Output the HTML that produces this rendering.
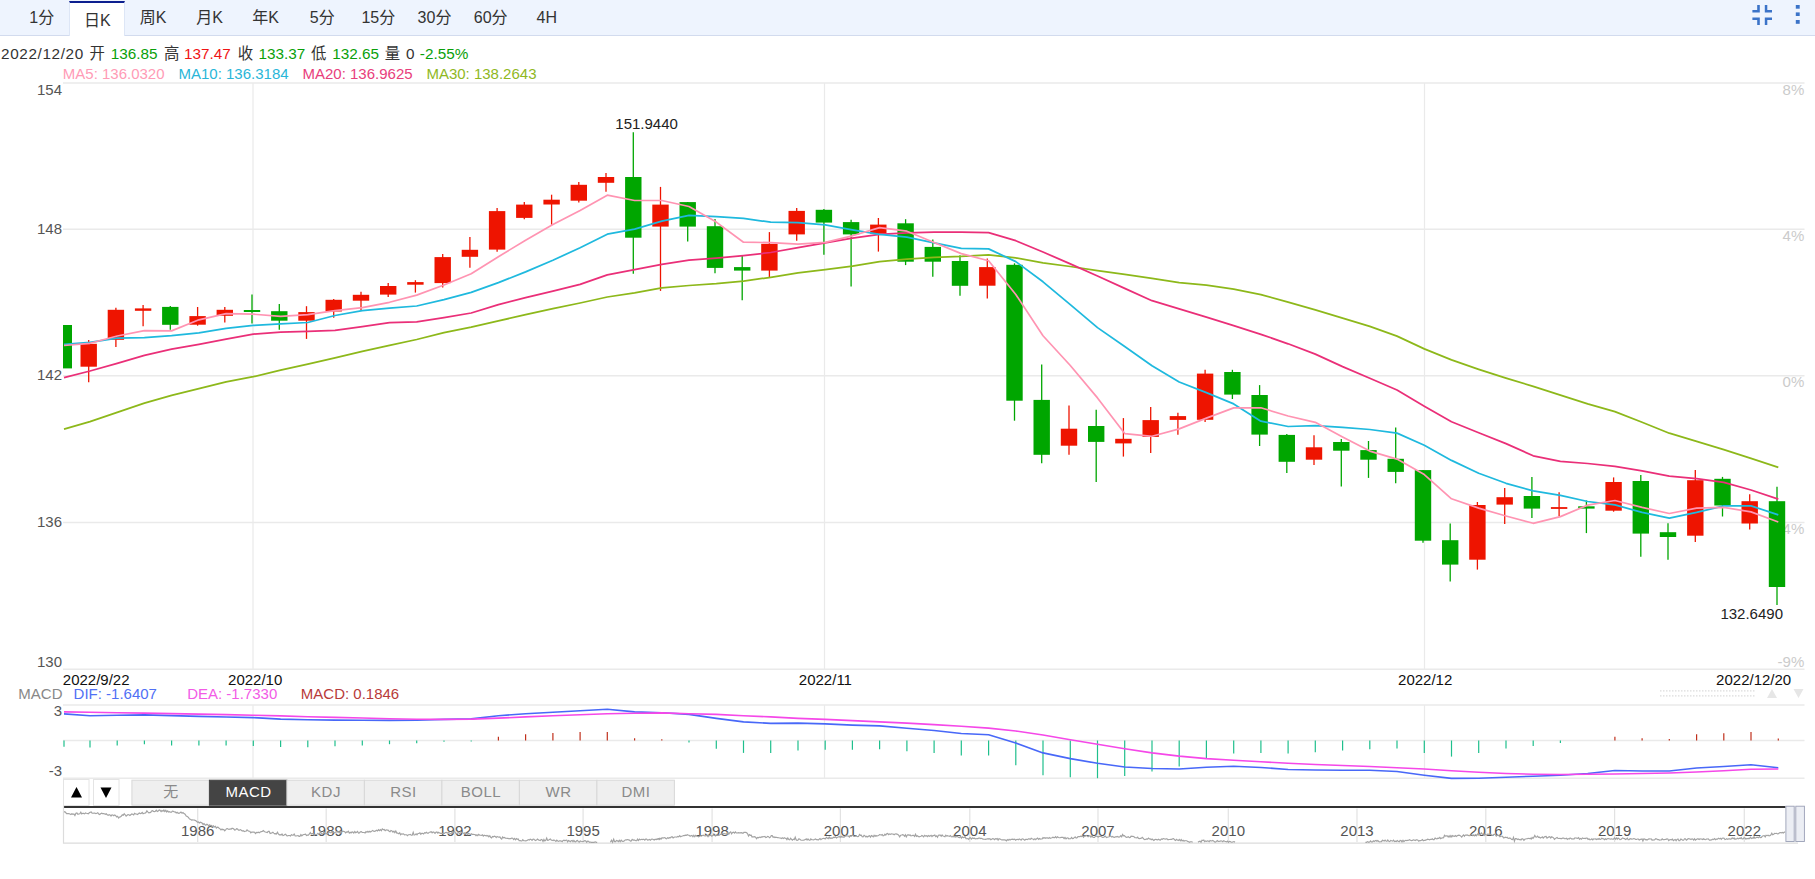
<!DOCTYPE html>
<html lang="zh-CN"><head><meta charset="utf-8"><title>K线图</title>
<style>
html,body{margin:0;padding:0;background:#fff;}
body{width:1815px;height:879px;overflow:hidden;position:relative;font-family:"Liberation Sans","Noto Sans CJK SC",sans-serif;}
svg{position:absolute;left:0;top:0;display:block;}
svg text{font-family:"Liberation Sans","Noto Sans CJK SC",sans-serif;font-size:15px;}
.hd{position:absolute;left:0;top:0;width:1815px;height:35px;background:#eef4fe;border-bottom:1px solid #d2dbee;box-sizing:content-box;}
.tab{position:absolute;top:0;height:35px;width:56px;text-align:center;font-size:16px;line-height:35px;color:#333;white-space:nowrap;}
.tab.on{background:#fff;top:1px;height:35px;width:56px;line-height:35px;border-top:2px solid #0c1f8f;box-sizing:border-box;border-left:1px solid #dde6f6;border-right:1px solid #dde6f6;}
.info span{position:absolute;top:43.6px;font-size:15.3px;line-height:20px;white-space:nowrap;color:#333;}
.info span.cj{font-size:15.4px;top:44px;}
.g{color:#0a9f0a !important}.r{color:#f01414 !important}
</style></head><body>
<div class="hd">
<div class="tab" style="left:13.7px">1分</div>
<div class="tab on" style="left:69.3px">日K</div>
<div class="tab" style="left:125.1px">周K</div>
<div class="tab" style="left:181.7px">月K</div>
<div class="tab" style="left:237.7px">年K</div>
<div class="tab" style="left:294.3px">5分</div>
<div class="tab" style="left:350.3px">15分</div>
<div class="tab" style="left:406.5px">30分</div>
<div class="tab" style="left:462.7px">60分</div>
<div class="tab" style="left:518.8px">4H</div>
</div>
<div class="info">
<span class="" style="left:1.0px;letter-spacing:0.62px;">2022/12/20</span>
<span class="cj" style="left:89.6px;">开</span>
<span class="g" style="left:110.7px;">136.85</span>
<span class="cj" style="left:164.0px;">高</span>
<span class="r" style="left:184.1px;">137.47</span>
<span class="cj" style="left:237.7px;">收</span>
<span class="g" style="left:258.5px;">133.37</span>
<span class="cj" style="left:311.1px;">低</span>
<span class="g" style="left:332.2px;">132.65</span>
<span class="cj" style="left:384.8px;">量</span>
<span class="" style="left:406.0px;">0</span>
<span class="g" style="left:419.8px;">-2.55%</span>
</div>
<svg width="1815" height="879" viewBox="0 0 1815 879">
<g fill="#3b73c8">
<path d="M1757.2 5h2.6v7.4h-7.4v-2.5h4.8z"/>
<path d="M1764.8 5h2.5v4.9h4.7v2.5h-7.2z"/>
<path d="M1752.4 17.6h7.4v7.4h-2.6v-5h-4.8z"/>
<path d="M1764.8 17.6h7.2v2.4h-4.7v5h-2.5z"/>
<rect x="1795.8" y="5" width="3.9" height="3.7"/><rect x="1795.8" y="12.4" width="3.9" height="3.6"/><rect x="1795.8" y="20" width="3.9" height="3.8"/>
</g>
<g font-size="15">
<text x="62.8" y="78.6" fill="#ff9bb6">MA5: 136.0320</text>
<text x="178.5" y="78.6" fill="#29b6d8">MA10: 136.3184</text>
<text x="302.5" y="78.6" fill="#e8407c">MA20: 136.9625</text>
<text x="426.4" y="78.6" fill="#8fb81e">MA30: 138.2643</text>
</g>
<g stroke="#eaeaea" stroke-width="1.45" fill="none">
<path d="M63 82.9 H1804.5"/>
<path d="M63 229.2 H1804.5"/>
<path d="M63 375.7 H1804.5"/>
<path d="M63 522.5 H1804.5"/>
<path d="M63 669.2 H1804.5"/>
<path stroke-width="1.25" d="M253 82.9 V669.2 M253 705 V778.2"/>
<path stroke-width="1.25" d="M824.5 82.9 V669.2 M824.5 705 V778.2"/>
<path stroke-width="1.25" d="M1424.5 82.9 V669.2 M1424.5 705 V778.2"/>
<path d="M63 705 H1804.5"/>
<path d="M63 740.5 H1804.5"/>
<path d="M63 778.2 H1804.5"/>
</g>
<g fill="#555" text-anchor="end">
<text x="62" y="95.1">154</text>
<text x="62" y="233.5">148</text>
<text x="62" y="380">142</text>
<text x="62" y="527">136</text>
<text x="62" y="666.8">130</text>
<text x="62" y="716.4">3</text><text x="62" y="775.5">-3</text>
</g>
<g fill="#cbcbcb" text-anchor="end">
<text x="1804.3" y="94.8">8%</text>
<text x="1804.3" y="240.6">4%</text>
<text x="1804.3" y="387.3">0%</text>
<text x="1804.3" y="533.9">-4%</text>
<text x="1804.3" y="666.5">-9%</text>
</g>
<g>
<rect x="63" y="325" width="9" height="43.4" fill="#00a600"/>
<path d="M88.7 340V382.3" stroke="#ee1400" stroke-width="1.3"/>
<rect x="80.5" y="343.8" width="16.4" height="22.9" fill="#ee1400"/>
<path d="M115.9 307.8V346.9" stroke="#ee1400" stroke-width="1.3"/>
<rect x="107.7" y="309.8" width="16.4" height="30" fill="#ee1400"/>
<path d="M143.1 305V326.3" stroke="#ee1400" stroke-width="1.3"/>
<rect x="134.9" y="308.4" width="16.4" height="2.4" fill="#ee1400"/>
<path d="M170.3 305.9V329.8" stroke="#00a600" stroke-width="1.3"/>
<rect x="162.1" y="306.9" width="16.4" height="17.9" fill="#00a600"/>
<path d="M197.6 307V325.7" stroke="#ee1400" stroke-width="1.3"/>
<rect x="189.4" y="316.1" width="16.4" height="8.6" fill="#ee1400"/>
<path d="M224.8 307V322.4" stroke="#ee1400" stroke-width="1.3"/>
<rect x="216.6" y="309.8" width="16.4" height="6" fill="#ee1400"/>
<path d="M252 294.6V323.6" stroke="#00a600" stroke-width="1.3"/>
<rect x="243.8" y="310" width="16.4" height="2" fill="#00a600"/>
<path d="M279.3 304V329.8" stroke="#00a600" stroke-width="1.3"/>
<rect x="271.1" y="311.2" width="16.4" height="9.5" fill="#00a600"/>
<path d="M306.5 306.2V338.9" stroke="#ee1400" stroke-width="1.3"/>
<rect x="298.3" y="312.1" width="16.4" height="8.6" fill="#ee1400"/>
<path d="M333.7 298.9V317.8" stroke="#ee1400" stroke-width="1.3"/>
<rect x="325.5" y="299.8" width="16.4" height="11.7" fill="#ee1400"/>
<path d="M361 291.7V310.3" stroke="#ee1400" stroke-width="1.3"/>
<rect x="352.8" y="294.8" width="16.4" height="5.9" fill="#ee1400"/>
<path d="M388.2 283.1V297.1" stroke="#ee1400" stroke-width="1.3"/>
<rect x="380" y="286" width="16.4" height="8.6" fill="#ee1400"/>
<path d="M415.4 280.2V292.6" stroke="#ee1400" stroke-width="1.3"/>
<rect x="407.2" y="282.1" width="16.4" height="2.6" fill="#ee1400"/>
<path d="M442.7 254.1V287.4" stroke="#ee1400" stroke-width="1.3"/>
<rect x="434.5" y="257.1" width="16.4" height="26" fill="#ee1400"/>
<path d="M469.9 236.9V267.8" stroke="#ee1400" stroke-width="1.3"/>
<rect x="461.7" y="249.8" width="16.4" height="7" fill="#ee1400"/>
<path d="M497.1 207.9V251.7" stroke="#ee1400" stroke-width="1.3"/>
<rect x="488.9" y="211.1" width="16.4" height="38.5" fill="#ee1400"/>
<path d="M524.3 202.1V219.2" stroke="#ee1400" stroke-width="1.3"/>
<rect x="516.1" y="204.6" width="16.4" height="13.3" fill="#ee1400"/>
<path d="M551.6 194.7V224.8" stroke="#ee1400" stroke-width="1.3"/>
<rect x="543.4" y="199.7" width="16.4" height="4.8" fill="#ee1400"/>
<path d="M578.8 182V202.6" stroke="#ee1400" stroke-width="1.3"/>
<rect x="570.6" y="184.8" width="16.4" height="15.9" fill="#ee1400"/>
<path d="M606 172.9V191.7" stroke="#ee1400" stroke-width="1.3"/>
<rect x="597.8" y="177" width="16.4" height="5.8" fill="#ee1400"/>
<path d="M633.3 132.2V273.7" stroke="#00a600" stroke-width="1.3"/>
<rect x="625.1" y="177" width="16.4" height="60.7" fill="#00a600"/>
<path d="M660.5 186.9V290.9" stroke="#ee1400" stroke-width="1.3"/>
<rect x="652.3" y="204.6" width="16.4" height="22" fill="#ee1400"/>
<path d="M687.7 202.1V241.5" stroke="#00a600" stroke-width="1.3"/>
<rect x="679.5" y="202.1" width="16.4" height="24.5" fill="#00a600"/>
<path d="M715 219V273.3" stroke="#00a600" stroke-width="1.3"/>
<rect x="706.8" y="226.2" width="16.4" height="41.7" fill="#00a600"/>
<path d="M742.2 255.5V300.2" stroke="#00a600" stroke-width="1.3"/>
<rect x="734" y="267.1" width="16.4" height="3.5" fill="#00a600"/>
<path d="M769.4 232.1V277.5" stroke="#ee1400" stroke-width="1.3"/>
<rect x="761.2" y="243.8" width="16.4" height="26.8" fill="#ee1400"/>
<path d="M796.7 208.1V240.7" stroke="#ee1400" stroke-width="1.3"/>
<rect x="788.5" y="210.9" width="16.4" height="23.5" fill="#ee1400"/>
<path d="M823.9 208.9V254.7" stroke="#00a600" stroke-width="1.3"/>
<rect x="815.7" y="209.8" width="16.4" height="12.8" fill="#00a600"/>
<path d="M851.1 219.7V286.6" stroke="#00a600" stroke-width="1.3"/>
<rect x="842.9" y="222.1" width="16.4" height="12.3" fill="#00a600"/>
<path d="M878.4 218V251.6" stroke="#ee1400" stroke-width="1.3"/>
<rect x="870.1" y="224.6" width="16.4" height="9.1" fill="#ee1400"/>
<path d="M905.6 219.2V265.1" stroke="#00a600" stroke-width="1.3"/>
<rect x="897.4" y="223.3" width="16.4" height="38.4" fill="#00a600"/>
<path d="M932.8 239.5V276.7" stroke="#00a600" stroke-width="1.3"/>
<rect x="924.6" y="246.9" width="16.4" height="14.8" fill="#00a600"/>
<path d="M960 255.2V295.7" stroke="#00a600" stroke-width="1.3"/>
<rect x="951.8" y="261" width="16.4" height="24.8" fill="#00a600"/>
<path d="M987.3 258.4V298.6" stroke="#ee1400" stroke-width="1.3"/>
<rect x="979.1" y="267.1" width="16.4" height="18.6" fill="#ee1400"/>
<path d="M1014.5 263.3V420.7" stroke="#00a600" stroke-width="1.3"/>
<rect x="1006.3" y="264.8" width="16.4" height="135.9" fill="#00a600"/>
<path d="M1041.7 364.4V463.2" stroke="#00a600" stroke-width="1.3"/>
<rect x="1033.5" y="399.9" width="16.4" height="54.9" fill="#00a600"/>
<path d="M1069 405.4V454.8" stroke="#ee1400" stroke-width="1.3"/>
<rect x="1060.8" y="428.7" width="16.4" height="17" fill="#ee1400"/>
<path d="M1096.2 409.8V481.9" stroke="#00a600" stroke-width="1.3"/>
<rect x="1088" y="426" width="16.4" height="15.9" fill="#00a600"/>
<path d="M1123.4 418.1V456.6" stroke="#ee1400" stroke-width="1.3"/>
<rect x="1115.2" y="438.8" width="16.4" height="4.6" fill="#ee1400"/>
<path d="M1150.7 407V453" stroke="#ee1400" stroke-width="1.3"/>
<rect x="1142.5" y="420.1" width="16.4" height="16.8" fill="#ee1400"/>
<path d="M1177.9 412.8V434.8" stroke="#ee1400" stroke-width="1.3"/>
<rect x="1169.7" y="416.1" width="16.4" height="3.8" fill="#ee1400"/>
<path d="M1205.1 369.8V421.9" stroke="#ee1400" stroke-width="1.3"/>
<rect x="1196.9" y="373.6" width="16.4" height="46.2" fill="#ee1400"/>
<path d="M1232.4 369.8V399" stroke="#00a600" stroke-width="1.3"/>
<rect x="1224.2" y="372" width="16.4" height="22.6" fill="#00a600"/>
<path d="M1259.6 385.1V446" stroke="#00a600" stroke-width="1.3"/>
<rect x="1251.4" y="395" width="16.4" height="39.6" fill="#00a600"/>
<path d="M1286.8 434V472.9" stroke="#00a600" stroke-width="1.3"/>
<rect x="1278.6" y="434.9" width="16.4" height="26.9" fill="#00a600"/>
<path d="M1314 435.2V465" stroke="#ee1400" stroke-width="1.3"/>
<rect x="1305.8" y="447.3" width="16.4" height="12.4" fill="#ee1400"/>
<path d="M1341.3 439V486.6" stroke="#00a600" stroke-width="1.3"/>
<rect x="1333.1" y="442" width="16.4" height="8.7" fill="#00a600"/>
<path d="M1368.5 441V477.9" stroke="#00a600" stroke-width="1.3"/>
<rect x="1360.3" y="450.1" width="16.4" height="9.6" fill="#00a600"/>
<path d="M1395.7 427.4V483.3" stroke="#00a600" stroke-width="1.3"/>
<rect x="1387.5" y="458.8" width="16.4" height="13.1" fill="#00a600"/>
<path d="M1423 470.1V542.7" stroke="#00a600" stroke-width="1.3"/>
<rect x="1414.8" y="470.1" width="16.4" height="70.6" fill="#00a600"/>
<path d="M1450.2 523.4V581.5" stroke="#00a600" stroke-width="1.3"/>
<rect x="1442" y="540.2" width="16.4" height="24.4" fill="#00a600"/>
<path d="M1477.4 502V569.6" stroke="#ee1400" stroke-width="1.3"/>
<rect x="1469.2" y="505" width="16.4" height="54.7" fill="#ee1400"/>
<path d="M1504.7 488.1V524.1" stroke="#ee1400" stroke-width="1.3"/>
<rect x="1496.5" y="497.2" width="16.4" height="7.4" fill="#ee1400"/>
<path d="M1531.9 477V517.9" stroke="#00a600" stroke-width="1.3"/>
<rect x="1523.7" y="496" width="16.4" height="12.6" fill="#00a600"/>
<path d="M1559.1 492.2V516.2" stroke="#ee1400" stroke-width="1.3"/>
<rect x="1550.9" y="507.1" width="16.4" height="1.8" fill="#ee1400"/>
<path d="M1586.4 500.5V533.1" stroke="#00a600" stroke-width="1.3"/>
<rect x="1578.2" y="506.3" width="16.4" height="2.3" fill="#00a600"/>
<path d="M1613.6 477.4V511.7" stroke="#ee1400" stroke-width="1.3"/>
<rect x="1605.4" y="482" width="16.4" height="28.7" fill="#ee1400"/>
<path d="M1640.8 474.9V556.7" stroke="#00a600" stroke-width="1.3"/>
<rect x="1632.6" y="481" width="16.4" height="52.6" fill="#00a600"/>
<path d="M1668 523.2V559.7" stroke="#00a600" stroke-width="1.3"/>
<rect x="1659.8" y="532.2" width="16.4" height="4.8" fill="#00a600"/>
<path d="M1695.3 469.9V542.1" stroke="#ee1400" stroke-width="1.3"/>
<rect x="1687.1" y="480.2" width="16.4" height="55.5" fill="#ee1400"/>
<path d="M1722.5 476.9V516.5" stroke="#00a600" stroke-width="1.3"/>
<rect x="1714.3" y="478.8" width="16.4" height="26.7" fill="#00a600"/>
<path d="M1749.7 494.2V529.5" stroke="#ee1400" stroke-width="1.3"/>
<rect x="1741.5" y="501.2" width="16.4" height="22.3" fill="#ee1400"/>
<path d="M1777 486.8V605" stroke="#00a600" stroke-width="1.3"/>
<rect x="1768.8" y="501.2" width="16.4" height="85.8" fill="#00a600"/>
</g>
<polyline points="64 429.2 90 421.6 117.2 412.4 144.4 403.2 171.6 395.4 198.9 388.6 226.1 381.8 253.3 376.7 280.6 370.2 307.8 364.2 335 357.9 362.3 351.4 389.5 345.4 416.7 339.5 444 332.7 471.2 327.2 498.4 320.9 525.6 314.7 552.9 308.7 580.1 303 607.3 297 634.6 292.8 661.8 287.9 689 285.5 716.3 283.7 743.5 281.1 770.7 277.3 798 272.9 825.2 269.6 852.4 266.2 879.6 261.6 906.9 259.2 934.1 257.3 961.3 256.4 988.6 254.8 1015.8 257.9 1043 262.8 1070.3 266.5 1097.5 270.6 1124.7 274.4 1152 278.4 1179.2 282.7 1206.4 285.1 1233.7 289.1 1260.9 294.6 1288.1 302.1 1315.3 309.8 1342.6 318.1 1369.8 326.4 1397 336.1 1424.3 348.9 1451.5 359.9 1478.7 369.3 1506 378.1 1533.2 386.4 1560.4 395.1 1587.7 403.8 1614.9 411.6 1642.1 422.3 1669.3 433.2 1696.6 441.4 1723.8 449.7 1751 458.3 1778.3 467.3" fill="none" stroke="#8db81a" stroke-width="1.75" stroke-linejoin="round"/>
<polyline points="64 377.6 90 371 117.2 363.4 144.4 355.4 171.6 349.1 198.9 344.3 226.1 339.1 253.3 334.1 280.6 332.2 307.8 331.3 335 330.4 362.3 326.7 389.5 322.6 416.7 321.8 444 317.6 471.2 313 498.4 304.6 525.6 297.7 552.9 291.1 580.1 284.4 607.3 274.8 634.6 269.6 661.8 264.3 689 260.1 716.3 258.1 743.5 255.6 770.7 252.5 798 247.6 825.2 242.9 852.4 238.1 879.6 234.4 906.9 232.8 934.1 232.1 961.3 232.2 988.6 232.6 1015.8 240.7 1043 252 1070.3 263.9 1097.5 276 1124.7 288.4 1152 300.7 1179.2 308.8 1206.4 317.1 1233.7 325.7 1260.9 334.3 1288.1 343.8 1315.3 354.1 1342.6 366.6 1369.8 378.2 1397 390 1424.3 406.3 1451.5 421.8 1478.7 432.8 1506 443.6 1533.2 455.8 1560.4 461.4 1587.7 463.5 1614.9 466.4 1642.1 470.9 1669.3 476.2 1696.6 478.6 1723.8 482.4 1751 490 1778.3 499.2" fill="none" stroke="#ea2f78" stroke-width="1.75" stroke-linejoin="round"/>
<polyline points="64 344.4 90 342.4 117.2 338.1 144.4 337.7 171.6 335.6 198.9 332.8 226.1 328.3 253.3 325.4 280.6 323.9 307.8 322.5 335 315.5 362.3 310.6 389.5 308.1 416.7 306 444 299.6 471.2 292.4 498.4 282.6 525.6 271.9 552.9 260.2 580.1 247.8 607.3 234.2 634.6 229.1 661.8 221.2 689 215.4 716.3 216.6 743.5 218.4 770.7 222.2 798 222.7 825.2 224.8 852.4 229.8 879.6 234.4 906.9 237.2 934.1 242.8 961.3 248.4 988.6 248.9 1015.8 261.6 1043 281.8 1070.3 304.6 1097.5 327.6 1124.7 346.5 1152 365.8 1179.2 382 1206.4 392.6 1233.7 403.9 1260.9 421.2 1288.1 426.5 1315.3 425.7 1342.6 427.4 1369.8 429.5 1397 433.1 1424.3 445.3 1451.5 460.4 1478.7 473.3 1506 483.3 1533.2 490.9 1560.4 495.3 1587.7 501.5 1614.9 504.9 1642.1 512.4 1669.3 518.2 1696.6 512.4 1723.8 505.9 1751 505.8 1778.3 514.9" fill="none" stroke="#1fb9de" stroke-width="1.75" stroke-linejoin="round"/>
<polyline points="64 345.5 90 343.3 117.2 336 144.4 330.7 171.6 330.9 198.9 319.8 226.1 313.6 253.3 314.2 280.6 316.4 307.8 314.7 335 310.6 362.3 307.7 389.5 302.3 416.7 295.1 444 285 471.2 273.7 498.4 256.7 525.6 240.2 552.9 224.6 580.1 210.5 607.3 195.2 634.6 200.5 661.8 200.5 689 206.5 716.3 222.1 743.5 242.2 770.7 242.6 798 244.1 825.2 242.3 852.4 235.8 879.6 227.6 906.9 231.2 934.1 242.5 961.3 253.6 988.6 260.7 1015.8 294.5 1043 335.7 1070.3 365.5 1097.5 397.9 1124.7 433.6 1152 436.3 1179.2 428.9 1206.4 418.1 1233.7 407.9 1260.9 407.8 1288.1 416 1315.3 422.3 1342.6 436.9 1369.8 451.1 1397 459.1 1424.3 474.6 1451.5 498.8 1478.7 508.1 1506 516 1533.2 523.3 1560.4 516.6 1587.7 505.1 1614.9 500.5 1642.1 507.4 1669.3 513.5 1696.6 508.2 1723.8 507.4 1751 511.9 1778.3 522" fill="none" stroke="#ff94b2" stroke-width="1.7" stroke-linejoin="round"/>
<g fill="#222">
<text x="615.3" y="129">151.9440</text>
<text x="1783" y="619" text-anchor="end">132.6490</text>
<text x="62.8" y="685.4" fill="#111">2022/9/22</text>
<text x="255.2" y="685.4" text-anchor="middle" fill="#111">2022/10</text>
<text x="825.4" y="685.4" text-anchor="middle" fill="#111">2022/11</text>
<text x="1425.2" y="685.4" text-anchor="middle" fill="#111">2022/12</text>
<text x="1791.2" y="685.4" text-anchor="end" fill="#111">2022/12/20</text>
</g>
<text x="18.3" y="699" fill="#888">MACD</text>
<text x="73.6" y="699" fill="#5070f5">DIF: -1.6407</text>
<text x="187.2" y="699" fill="#f25be6">DEA: -1.7330</text>
<text x="300.8" y="699" fill="#b83a3a">MACD: 0.1846</text>
<g stroke="#dcdcdc" stroke-width="1.3" stroke-dasharray="1.5 1.5"><path d="M1660 690.9H1756M1660 695.8H1756"/></g>
<path d="M1767 698l5-9 5 9z M1793.5 689l5 9 5-9z" fill="#e6e6e6"/>
<path d="M64 740.5V746.7" stroke="#1fbf8c" stroke-width="1.2"/>
<path d="M90 740.5V747.5" stroke="#1fbf8c" stroke-width="1.2"/>
<path d="M117.2 740.5V745.5" stroke="#1fbf8c" stroke-width="1.2"/>
<path d="M144.4 740.5V744.2" stroke="#1fbf8c" stroke-width="1.2"/>
<path d="M171.6 740.5V745.5" stroke="#1fbf8c" stroke-width="1.2"/>
<path d="M198.9 740.5V745.5" stroke="#1fbf8c" stroke-width="1.2"/>
<path d="M226.1 740.5V745.5" stroke="#1fbf8c" stroke-width="1.2"/>
<path d="M253.3 740.5V746" stroke="#1fbf8c" stroke-width="1.2"/>
<path d="M280.6 740.5V746.9" stroke="#1fbf8c" stroke-width="1.2"/>
<path d="M307.8 740.5V747.2" stroke="#1fbf8c" stroke-width="1.2"/>
<path d="M335 740.5V746.2" stroke="#1fbf8c" stroke-width="1.2"/>
<path d="M362.3 740.5V745.5" stroke="#1fbf8c" stroke-width="1.2"/>
<path d="M389.5 740.5V744.2" stroke="#1fbf8c" stroke-width="1.2"/>
<path d="M416.7 740.5V743.2" stroke="#1fbf8c" stroke-width="1.2"/>
<path d="M444 740.5V741.7" stroke="#1fbf8c" stroke-width="1.2"/>
<path d="M471.2 740.5V741.5" stroke="#1fbf8c" stroke-width="1.2"/>
<path d="M498.4 740.5V736.8" stroke="#c0301c" stroke-width="1.2"/>
<path d="M525.6 740.5V734.3" stroke="#c0301c" stroke-width="1.2"/>
<path d="M552.9 740.5V733.1" stroke="#c0301c" stroke-width="1.2"/>
<path d="M580.1 740.5V732.1" stroke="#c0301c" stroke-width="1.2"/>
<path d="M607.3 740.5V732.1" stroke="#c0301c" stroke-width="1.2"/>
<path d="M634.6 740.5V738.3" stroke="#c0301c" stroke-width="1.2"/>
<path d="M661.8 740.5V739.3" stroke="#c0301c" stroke-width="1.2"/>
<path d="M689 740.5V742.5" stroke="#1fbf8c" stroke-width="1.2"/>
<path d="M716.3 740.5V748.7" stroke="#1fbf8c" stroke-width="1.2"/>
<path d="M743.5 740.5V752.9" stroke="#1fbf8c" stroke-width="1.2"/>
<path d="M770.7 740.5V752.9" stroke="#1fbf8c" stroke-width="1.2"/>
<path d="M798 740.5V750.4" stroke="#1fbf8c" stroke-width="1.2"/>
<path d="M825.2 740.5V749.7" stroke="#1fbf8c" stroke-width="1.2"/>
<path d="M852.4 740.5V749.7" stroke="#1fbf8c" stroke-width="1.2"/>
<path d="M879.6 740.5V749.2" stroke="#1fbf8c" stroke-width="1.2"/>
<path d="M906.9 740.5V751.2" stroke="#1fbf8c" stroke-width="1.2"/>
<path d="M934.1 740.5V752.9" stroke="#1fbf8c" stroke-width="1.2"/>
<path d="M961.3 740.5V755.4" stroke="#1fbf8c" stroke-width="1.2"/>
<path d="M988.6 740.5V755.4" stroke="#1fbf8c" stroke-width="1.2"/>
<path d="M1015.8 740.5V765.3" stroke="#1fbf8c" stroke-width="1.2"/>
<path d="M1043 740.5V775.2" stroke="#1fbf8c" stroke-width="1.2"/>
<path d="M1070.3 740.5V777.2" stroke="#1fbf8c" stroke-width="1.2"/>
<path d="M1097.5 740.5V778.2" stroke="#1fbf8c" stroke-width="1.2"/>
<path d="M1124.7 740.5V776" stroke="#1fbf8c" stroke-width="1.2"/>
<path d="M1152 740.5V771.5" stroke="#1fbf8c" stroke-width="1.2"/>
<path d="M1179.2 740.5V766.5" stroke="#1fbf8c" stroke-width="1.2"/>
<path d="M1206.4 740.5V757.9" stroke="#1fbf8c" stroke-width="1.2"/>
<path d="M1233.7 740.5V753.6" stroke="#1fbf8c" stroke-width="1.2"/>
<path d="M1260.9 740.5V752.9" stroke="#1fbf8c" stroke-width="1.2"/>
<path d="M1288.1 740.5V753.6" stroke="#1fbf8c" stroke-width="1.2"/>
<path d="M1315.3 740.5V752.2" stroke="#1fbf8c" stroke-width="1.2"/>
<path d="M1342.6 740.5V750.5" stroke="#1fbf8c" stroke-width="1.2"/>
<path d="M1369.8 740.5V749.2" stroke="#1fbf8c" stroke-width="1.2"/>
<path d="M1397 740.5V748.5" stroke="#1fbf8c" stroke-width="1.2"/>
<path d="M1424.3 740.5V752.9" stroke="#1fbf8c" stroke-width="1.2"/>
<path d="M1451.5 740.5V756.6" stroke="#1fbf8c" stroke-width="1.2"/>
<path d="M1478.7 740.5V752.9" stroke="#1fbf8c" stroke-width="1.2"/>
<path d="M1506 740.5V748.5" stroke="#1fbf8c" stroke-width="1.2"/>
<path d="M1533.2 740.5V746" stroke="#1fbf8c" stroke-width="1.2"/>
<path d="M1560.4 740.5V743" stroke="#1fbf8c" stroke-width="1.2"/>
<path d="M1614.9 740.5V736.8" stroke="#c0301c" stroke-width="1.2"/>
<path d="M1642.1 740.5V738.3" stroke="#c0301c" stroke-width="1.2"/>
<path d="M1669.3 740.5V739" stroke="#c0301c" stroke-width="1.2"/>
<path d="M1696.6 740.5V734.3" stroke="#c0301c" stroke-width="1.2"/>
<path d="M1723.8 740.5V733.3" stroke="#c0301c" stroke-width="1.2"/>
<path d="M1751 740.5V732.1" stroke="#c0301c" stroke-width="1.2"/>
<path d="M1778.3 740.5V738.5" stroke="#c0301c" stroke-width="1.2"/>
<polyline points="64 713.9 90 715.7 117.2 715.3 144.4 714.9 171.6 715.6 198.9 716.4 226.1 717 253.3 717.6 280.6 719.1 307.8 719.8 335 720.1 362.3 720.3 389.5 720.4 416.7 720.2 444 719.4 471.2 718.9 498.4 715.7 525.6 713.7 552.9 712.2 580.1 710.7 607.3 709.2 634.6 711.9 661.8 712.7 689 714.4 716.3 718.4 743.5 721.9 770.7 723.4 798 723.1 825.2 723.9 852.4 725.1 879.6 725.9 906.9 728.3 934.1 730.5 961.3 733.5 988.6 734.8 1015.8 743 1043 752.9 1070.3 758.6 1097.5 763.3 1124.7 767 1152 768.5 1179.2 769 1206.4 767.3 1233.7 766.3 1260.9 767.5 1288.1 769.5 1315.3 770 1342.6 770.2 1369.8 770.3 1397 771.5 1424.3 775.2 1451.5 778.4 1478.7 778.2 1506 777.2 1533.2 776.2 1560.4 775.2 1587.7 773.5 1614.9 770.5 1642.1 771 1669.3 771 1696.6 768 1723.8 766.5 1751 764.8 1778.3 767.8" fill="none" stroke="#4868f8" stroke-width="1.6" stroke-linejoin="round"/>
<polyline points="64 711.9 90 712.3 117.2 712.7 144.4 713.1 171.6 713.6 198.9 714.1 226.1 714.6 253.3 715.2 280.6 715.9 307.8 716.7 335 717.4 362.3 718 389.5 718.7 416.7 719.2 444 719.4 471.2 719.1 498.4 718.1 525.6 716.9 552.9 715.7 580.1 714.7 607.3 713.7 634.6 713.2 661.8 712.9 689 713.7 716.3 714.4 743.5 715.7 770.7 716.9 798 718.4 825.2 719.4 852.4 720.6 879.6 721.9 906.9 723.1 934.1 724.6 961.3 726.3 988.6 728.1 1015.8 731 1043 735 1070.3 739.7 1097.5 744.2 1124.7 748.7 1152 752.9 1179.2 756.1 1206.4 758.6 1233.7 760.3 1260.9 761.8 1288.1 763.3 1315.3 764.5 1342.6 765.5 1369.8 766.5 1397 767.8 1424.3 769 1451.5 770.7 1478.7 772.2 1506 773.5 1533.2 774.2 1560.4 774.5 1587.7 774.2 1614.9 774 1642.1 773.5 1669.3 773 1696.6 772 1723.8 770.7 1751 769.2 1778.3 769" fill="none" stroke="#f548e8" stroke-width="1.6" stroke-linejoin="round"/>
<g>
<rect x="63.5" y="779.5" width="25.5" height="26" fill="#fff" stroke="#e4e4e4"/>
<rect x="93.5" y="779.5" width="25.5" height="26" fill="#fff" stroke="#e4e4e4"/>
<path d="M71 797.5l5.5-10.5 5.5 10.5z M100.5 787.5l5.5 10.5 5.5-10.5z" fill="#000"/>
<rect x="131.9" y="780.2" width="77.5" height="25" fill="#efefef" stroke="#d8d8d8" stroke-width="1"/>
<text x="171.1" y="797.2" text-anchor="middle" font-size="16.2" letter-spacing="0.5" fill="#8a8a8a">无</text>
<rect x="209.4" y="780.2" width="77.5" height="25" fill="#444" stroke="#444" stroke-width="1"/>
<text x="248.6" y="797.2" text-anchor="middle" font-size="16.2" letter-spacing="0.5" fill="#fff">MACD</text>
<rect x="286.9" y="780.2" width="77.5" height="25" fill="#efefef" stroke="#d8d8d8" stroke-width="1"/>
<text x="326" y="797.2" text-anchor="middle" font-size="16.2" letter-spacing="0.5" fill="#8a8a8a">KDJ</text>
<rect x="364.4" y="780.2" width="77.5" height="25" fill="#efefef" stroke="#d8d8d8" stroke-width="1"/>
<text x="403.5" y="797.2" text-anchor="middle" font-size="16.2" letter-spacing="0.5" fill="#8a8a8a">RSI</text>
<rect x="441.9" y="780.2" width="77.5" height="25" fill="#efefef" stroke="#d8d8d8" stroke-width="1"/>
<text x="481" y="797.2" text-anchor="middle" font-size="16.2" letter-spacing="0.5" fill="#8a8a8a">BOLL</text>
<rect x="519.4" y="780.2" width="77.5" height="25" fill="#efefef" stroke="#d8d8d8" stroke-width="1"/>
<text x="558.5" y="797.2" text-anchor="middle" font-size="16.2" letter-spacing="0.5" fill="#8a8a8a">WR</text>
<rect x="596.9" y="780.2" width="77.5" height="25" fill="#efefef" stroke="#d8d8d8" stroke-width="1"/>
<text x="636" y="797.2" text-anchor="middle" font-size="16.2" letter-spacing="0.5" fill="#8a8a8a">DMI</text>
</g>
<path d="M63.5 807H1785.5" stroke="#333" stroke-width="2.2"/>
<path d="M63.5 806V843.2H1798" fill="none" stroke="#dcdcdc" stroke-width="1.2"/>
<g stroke="#e2e2e2" stroke-width="1.2">
<path d="M197.7 808.5V842"/>
<path d="M326.2 808.5V842"/>
<path d="M454.9 808.5V842"/>
<path d="M583.1 808.5V842"/>
<path d="M712.1 808.5V842"/>
<path d="M840.4 808.5V842"/>
<path d="M969.8 808.5V842"/>
<path d="M1098 808.5V842"/>
<path d="M1228.3 808.5V842"/>
<path d="M1357 808.5V842"/>
<path d="M1485.8 808.5V842"/>
<path d="M1614.6 808.5V842"/>
<path d="M1744.3 808.5V842"/>
</g>
<g fill="#555" text-anchor="middle">
<text x="197.7" y="836.3">1986</text>
<text x="326.2" y="836.3">1989</text>
<text x="454.9" y="836.3">1992</text>
<text x="583.1" y="836.3">1995</text>
<text x="712.1" y="836.3">1998</text>
<text x="840.4" y="836.3">2001</text>
<text x="969.8" y="836.3">2004</text>
<text x="1098" y="836.3">2007</text>
<text x="1228.3" y="836.3">2010</text>
<text x="1357" y="836.3">2013</text>
<text x="1485.8" y="836.3">2016</text>
<text x="1614.6" y="836.3">2019</text>
<text x="1744.3" y="836.3">2022</text>
</g>
<polyline points="64 811.6 65.3 812.1 66.6 813.6 67.7 813.6 68.8 813.5 69.9 814.1 70.9 814.5 71.9 813.7 72.9 814.3 73.9 814 74.9 815.6 75.9 813.2 76.9 813 77.9 814.3 78.8 814 79.8 813.7 80.8 812.1 81.7 814 82.7 813.3 83.6 813.4 84.6 813.9 85.5 812.9 86.4 813.3 87.4 813.5 88.3 813.9 89.3 812.8 90.2 812.2 91.2 811.9 92.1 813.1 93.1 813.2 94 813.1 94.9 813.1 95.9 813.7 96.8 813.3 97.8 812.7 98.7 814 99.7 814.5 100.6 813.8 101.6 813.2 102.5 813.6 103.4 813.5 104.4 813.7 105.3 814.3 106.3 813.8 107.2 814.8 108.2 815.4 109.1 814.6 110.1 814.9 111 816.1 111.9 814.8 112.9 815.1 113.8 815.8 114.8 814.9 115.7 815.7 116.7 816.9 117.6 816.3 118.6 818 119.5 817 120.4 816.9 121.4 816 122.3 814.8 123.3 815.2 124.2 813.7 125.2 814.8 126.1 816.2 127.1 815.3 128 814.6 128.9 814.7 129.9 815.5 130.8 814.7 131.8 813.9 132.7 814.3 133.7 814.9 134.6 813.3 135.6 814 136.5 814 137.4 814.5 138.4 813.8 139.3 813 140.3 813.6 141.2 813.5 142.2 812.4 143.1 813.7 144.1 813.3 145 813.1 146 812.6 146.9 810.8 147.8 811.8 148.8 812.8 149.7 812.6 150.7 812.4 151.6 810.9 152.6 810.7 153.5 811.4 154.5 811.7 155.4 811.2 156.3 810.1 157.3 811.5 158.2 811.1 159.2 810 160.1 810.3 161.1 811.5 162 810.5 163 811.2 163.9 810.1 164.8 811.6 165.8 810.3 166.7 811.9 167.7 810.8 168.6 812 169.6 811.6 170.5 812.2 171.5 812.1 172.4 811.1 173.3 811.3 174.3 812 175.2 811.8 176.2 812.9 177.1 812.2 178.1 813.1 179 813.3 180 812.8 181 812 182 813.3 183 812.5 184 813.6 185.1 814.2 186.2 816 187.3 816.5 188.4 817.4 189.5 819 190.6 819.3 191.6 820.2 192.6 819.9 193.6 820 194.5 820.1 195.5 820.5 196.5 821.3 197.4 822.2 198.4 822 199.3 823 200.3 822.2 201.2 822.6 202.1 823 203.1 824.5 204 823.6 205 824.7 205.9 825.2 206.9 824.2 207.8 824.8 208.8 826 209.7 824.8 210.6 825.7 211.6 825.4 212.5 826.8 213.5 825.9 214.4 827 215.4 826.3 216.3 828 217.3 827.2 218.2 827.4 219.1 828.2 220.1 828.9 221 829.9 222 829.1 222.9 829.8 223.8 829.5 224.7 830.8 225.6 829.8 226.5 828.7 227.4 828.6 228.3 829.2 229.2 829.4 230.1 828.8 231 829.2 231.9 828.4 232.8 828.4 233.8 829 234.7 830 235.7 829.7 236.6 828.7 237.6 829.1 238.5 830.2 239.5 830.1 240.4 829.6 241.3 830.2 242.3 831.1 243.2 830.6 244.2 831.5 245.1 831.3 246.1 831.2 247 829.8 248 830.7 248.9 831.2 249.8 831.2 250.8 832.8 251.7 832 252.7 832.1 253.6 832 254.6 832.3 255.5 833.6 256.5 832.4 257.4 832.6 258.3 832.2 259.3 832.8 260.3 832.1 261.3 831.6 262.3 831.5 263.3 830.6 264.3 831.5 265.3 832 266.3 832.2 267.3 832.5 268.3 831.4 269.2 831.3 270.1 833.5 271 833.1 271.9 833 272.9 832.2 273.8 833.1 274.7 833.8 275.6 833.6 276.5 834 277.4 832.2 278.4 833.8 279.3 834.9 280.2 834.7 281.1 835 282 833.9 283 835.5 283.9 835.3 284.8 834.6 285.7 834.2 286.7 835.8 287.6 835.9 288.6 835.5 289.5 835.5 290.5 836 291.4 834.7 292.3 835.1 293.3 835.2 294.2 834 295.2 835.9 296.1 836 297.1 835.7 298 835.6 299 836.3 299.9 836.3 300.9 834.5 301.8 835.8 302.7 835 303.7 834.5 304.6 834.4 305.6 834.1 306.5 835.5 307.5 835.1 308.4 835.1 309.4 833.8 310.3 832.6 311.2 834 312.2 833.6 313.1 833.6 314.1 835.3 315 834.4 316 834.5 316.9 834.3 317.9 833.3 318.8 834.4 319.7 833.2 320.7 831.7 321.6 833.9 322.6 834 323.5 832.7 324.5 832.5 325.4 833.8 326.3 833.5 327.2 833.6 328.1 832.9 329.1 832 330 832.6 330.9 832.9 331.8 831.8 332.7 831.9 333.6 832.2 334.6 832.9 335.5 832 336.4 832 337.3 832.1 338.2 831.6 339.2 832.9 340.1 831.6 341 833 341.9 831.4 342.8 831.4 343.7 831.4 344.7 831.7 345.6 832.9 346.5 832 347.4 832.2 348.3 831.2 349.3 833.1 350.2 832.3 351.1 832.9 352 831.9 352.9 832.1 353.8 833.1 354.8 831.5 355.7 832.7 356.6 832.3 357.5 831.5 358.5 833.1 359.4 832.9 360.4 831.8 361.3 831.6 362.2 832.5 363.2 832.5 364.1 832.5 365.1 833 366 831.5 367 832.2 367.9 831.2 368.9 832.1 369.8 831.2 370.7 831.9 371.7 831.1 372.7 830.5 373.6 831.2 374.6 831.3 375.6 830.9 376.5 830.3 377.5 830.9 378.5 829.6 379.4 830.6 380.4 829.6 381.3 830.7 382.3 828.9 383.3 829.7 384.2 829.5 385.2 830.6 386.2 829.8 387.1 830.1 388.1 830.1 389.1 831.2 390 831.7 391 830.4 392 831 392.9 832.1 393.9 831.2 394.8 832.6 395.8 830.9 396.8 833.1 397.7 833.1 398.7 833.8 399.7 832.8 400.6 834.7 401.6 833.8 402.6 834.1 403.5 833.8 404.5 834.8 405.5 834.7 406.4 834.7 407.4 835.7 408.3 834.8 409.3 834.7 410.3 834.3 411.2 835.1 412.2 835.2 413.2 832.3 414.1 835.1 415.1 834.7 416.1 833.9 417 834.9 418 833.5 418.9 833.5 419.9 832.8 420.8 834.3 421.7 833.4 422.7 833.3 423.6 834 424.6 832.7 425.5 833 426.5 832.3 427.4 833.2 428.4 833.1 429.3 832.2 430.2 832.1 431.2 831.7 432.1 832.9 433.1 831.9 434 832.3 435 833.3 435.9 832.3 436.9 832 437.8 833.2 438.7 832.3 439.7 833.1 440.6 833.4 441.6 833.3 442.5 833.6 443.5 833.2 444.4 833.4 445.4 832.5 446.3 832.3 447.2 833 448.2 832.6 449.1 832.8 450.1 833.3 451 833.6 452 832.6 452.9 833.2 453.9 831.7 454.8 831.8 455.7 833.3 456.7 833.2 457.6 833.2 458.5 832.2 459.4 833.6 460.4 833.1 461.3 832.5 462.2 832.5 463.1 832.9 464 833.7 465 832.7 465.9 834 466.8 833.5 467.7 834.5 468.6 833.3 469.6 834 470.5 834.6 471.4 833.8 472.3 834.4 473.2 834.4 474.1 834.5 475.1 834.6 476 835.6 476.9 834.8 477.8 835.6 478.7 834.4 479.7 835.2 480.6 835.3 481.5 835.5 482.4 834.8 483.3 836 484.2 835.1 485.2 835.7 486.1 835.4 487 836.1 487.9 835.5 488.8 836.8 489.8 835.8 490.7 837.3 491.6 837.9 492.5 836.4 493.4 836.9 494.3 836.2 495.3 836.4 496.2 837.6 497.1 836.5 498 837 498.9 837.1 499.9 836.9 500.8 838.4 501.7 839.1 502.6 837 503.5 837.8 504.4 837.5 505.4 838.1 506.3 838.3 507.2 838.4 508.1 838.3 509 838.9 510 838.5 510.9 838.6 511.8 838.1 512.7 838.2 513.6 839.5 514.5 838.4 515.5 839.8 516.4 838.6 517.3 839.3 518.2 839 519.1 840.7 520.1 840.5 521 840.9 521.9 841 522.8 839.7 523.7 840.6 524.6 840.7 525.6 840.9 526.5 840.8 527.4 840.2 528.3 839.6 529.2 840.1 530.2 839.2 531.1 839.4 532 840.3 532.9 839.3 533.8 839.2 534.7 840.1 535.7 840.5 536.6 839.9 537.5 839 538.4 839.9 539.3 840.2 540.3 840.6 541.2 839.5 542.1 839.7 543 841.4 543.9 839.5 544.8 840.9 545.8 840.3 546.7 838.1 547.6 840.4 548.5 840.2 549.4 839.6 550.4 839 551.3 840.1 552.2 840.2 553.1 840.6 554 840 554.9 840.6 555.9 841.4 556.8 840.1 557.7 841 558.6 841.3 559.5 840.8 560.4 840.9 561.3 841.1 562.2 841.7 563.1 840.4 564 840.1 564.9 840.8 565.8 840.2 566.7 840.1 567.6 841.8 568.5 840.5 569.4 841.1 570.3 841.7 571.2 840.8 572.1 840.4 573 841.7 573.9 840.4 574.8 841.7 575.7 841.8 576.6 840.8 577.5 840.4 578.5 841.8 579.4 842 580.3 841 581.2 841.3 582.1 841.5 583 841.7 584 841 584.9 840.6 585.8 841 586.7 842.3 587.6 841.2 588.6 841.3 589.5 842.3 590.4 842 591.3 842.3 592.2 842.3 593.2 842.3 594.2 842.3 595.2 841.8 596.2 842.3 597.2 842.3" fill="none" stroke="#a3a3a3" stroke-width="1.15"/>
<polyline points="610.4 842.3 611.5 840.2 612.6 842.3 613.7 839.2 614.6 841.6 615.6 841.6 616.5 840.4 617.4 840.8 618.4 841.6 619.3 840.2 620.2 841.6 621.2 840.1 622.1 841.2 623 841.3 623.9 841.2 624.9 840.2 625.8 839.8 626.7 839.9 627.7 839.5 628.6 839.9 629.5 840.1 630.4 841.1 631.3 840.9 632.2 839.4 633.1 840.1 634 839.9 634.9 840.2 635.8 840.7 636.7 840.6 637.6 839.1 638.5 840.5 639.4 839.1 640.3 839.9 641.2 839.3 642.1 839.6 643 839.4 643.9 839.4 644.8 840.1 645.7 839.1 646.6 839 647.5 840.1 648.4 839.9 649.4 839.4 650.4 840.3 651.3 839.3 652.3 839 653.3 839.4 654.2 840 655.2 839.2 656.1 839.7 657.1 839.4 658.1 838.8 659 839.7 660 839.4 656.5 838.9 657.4 839.1 658.4 838.8 659.3 838.3 660.2 838.3 661.1 839.2 662 837.8 663 838.1 663.9 837.7 664.8 837.6 665.7 838.5 666.6 838.8 667.5 837.7 668.5 838.3 669.4 837.6 670.3 837.9 671.2 837 672.1 836.6 673.1 837.9 674 837.2 674.9 837 675.9 837 676.8 837.1 677.8 836.4 678.7 836.8 679.7 835.7 680.6 836.7 681.6 836.2 682.5 836 683.4 835.5 684.4 835.6 685.3 835.1 686.3 835.4 687.2 834.7 688.2 835.1 689.1 835.2 690.1 836.2 691 835.8 691.9 835.4 692.9 836.7 693.8 835.2 694.8 836.7 695.7 835.3 696.7 836.2 697.6 836.2 698.6 836.9 699.5 836.2 700.4 835.8 701.4 836.1 702.3 835.5 703.3 835.2 704.2 835.7 705.2 835.9 706.1 835.8 707.1 835.5 708 836.7 708.9 835.4 709.9 835.6 710.8 835.1 711.8 836.3 712.7 835.6 713.7 835.1 714.6 835.2 715.6 835.9 716.5 835.1 717.4 835.1 718.4 835.5 719.3 835.3 720.3 834.3 721.2 834.3 722.2 833.4 723.1 833.8 724.1 833.6 725 833.7 726 834 726.9 834.4 727.8 832.7 728.8 834.1 729.7 832.6 730.7 831.8 731.6 833.8 732.6 832.4 733.5 832.1 734.5 833.2 735.4 831.9 736.3 832.9 737.3 833 738.2 832.7 739.2 832.8 740.1 832.8 741.1 832.7 742 832.9 743 833.3 743.9 832.4 744.8 832.3 745.8 832.3 746.7 832.8 747.6 833.8 748.5 836 749.4 834.6 750.3 835.3 751.2 835.2 752.1 837.1 753 836.8 753.9 836.9 754.8 836.7 755.7 837.4 756.6 838.7 757.5 837.5 758.5 837.8 759.4 837.1 760.3 837.6 761.2 836.9 762.1 837.1 763 836.5 764 836.7 764.9 836.4 765.8 837.6 766.7 837.2 767.6 836.3 768.6 836.7 769.5 837.8 770.4 837.2 771.3 835.6 772.2 835.5 773.1 837.3 774.1 836.9 775 837.5 775.9 837.2 776.8 837.5 777.7 837.6 778.7 837.7 779.6 838 780.5 838 781.4 838.6 782.3 837.7 783.3 838.6 784.2 837.8 785.1 838.3 786 838.4 786.9 839.7 787.8 838 788.8 839.6 789.7 839.8 790.6 838.2 791.5 839.3 792.4 840.1 793.4 839.1 794.3 839.6 795.2 837.2 796.1 839.8 797 840.3 797.9 840.2 798.9 838.7 799.8 839.2 800.7 840 801.6 840.2 802.5 840.2 803.5 840.1 804.4 839.9 805.3 839.6 806.2 838.8 807.1 840.1 808 839 809 840.1 809.9 840.3 810.8 838.8 811.7 839.6 812.6 839.7 813.6 839.9 814.5 839.5 815.4 839 816.3 839.6 817.2 839.6 818.1 840.1 819.1 839.3 820 838.5 820.9 839.6 821.8 838.9 822.7 838.5 823.7 838.3 824.6 838.6 825.5 838.9 826.4 837.3 827.3 838 828.2 838.6 829.2 837.1 830.1 838.4 831 837.9 831.9 838.3 832.8 837.9 833.8 837.2 834.7 837.5 835.6 836.8 836.5 838 837.4 837.3 838.3 837 839.3 836.5 840.2 837.4 841.1 836.1 842 837.2 842.9 836.8 843.9 837.3 844.8 836.5 845.7 835.9 846.6 835.8 847.5 836 848.4 836 849.4 837.1 850.3 835.8 851.2 836.2 852.1 835.3 853 835.6 854 836.5 854.9 836.4 855.8 835.9 856.7 836.3 857.6 836.6 858.5 836.4 859.5 834.5 860.4 835.3 861.3 835.2 862.2 836.7 863.1 836.8 864.1 835.3 865 835.9 865.9 837 866.8 836.3 867.7 837 868.7 836.1 869.6 835.7 870.5 837.2 871.4 835.5 872.3 836 873.2 836.9 874.1 835.2 875 836.3 875.9 835.5 876.8 836.1 877.7 835.8 878.6 835.6 879.5 834.6 880.4 834.7 881.3 835 882.2 834.5 883.1 835.8 884 835.5 884.9 834.1 885.8 835.1 886.7 833.7 887.6 833.5 888.5 834.7 889.4 833.9 890.3 834.4 891.2 833.9 892.2 834 893.1 834.1 894.1 834.7 895 834 896 833.9 896.9 834.1 897.9 834.5 898.8 835.4 899.7 836.9 900.7 835.2 901.6 835 902.6 834.7 903.5 835 904.5 836.3 905.4 834.7 906.3 836.9 907.2 835.2 908.1 834.7 909.1 835.4 910 834.8 910.9 835.8 911.8 835.7 912.7 835.4 913.6 835.3 914.6 836.5 915.5 834.2 916.4 836.3 917.3 835.7 918.2 836.4 919.2 836.8 920.1 836.5 921 836.2 921.9 835.5 922.8 836 923.7 836.9 924.7 835.3 925.6 836.1 926.5 835.7 927.4 836.7 928.3 835.5 929.3 836.3 930.2 835.9 931.1 835.3 932 836.5 932.9 835.6 933.8 835.6 934.8 835 935.7 836.6 936.6 835.8 937.5 837.3 938.4 835.2 939.4 835.1 940.3 835.1 941.2 836.2 942.1 835 943 836.1 943.9 836.3 944.9 836.7 945.8 835.2 946.7 836.1 947.6 835.7 948.5 836 949.5 836.3 950.4 835.6 951.3 836.7 952.2 836.9 953.1 836.1 954 837 955 836.3 955.9 837.1 956.8 836.2 957.7 836.7 958.6 837.5 959.6 837.6 960.5 836.3 961.4 838.1 962.3 836.9 963.2 837.7 964.2 837.4 965.1 836.5 966 838.6 966.9 838.7 967.8 838.6 968.7 839.3 969.7 837.8 970.6 837.9 971.5 839.1 972.4 838 973.3 838.3 974.3 838.1 975.2 838.8 976.1 838.7 977 838.6 977.9 838.6 978.8 838 979.8 838.1 980.7 838.6 981.6 838.3 982.5 838.9 983.4 839.1 984.4 839.2 985.3 839.3 986.2 839.1 987.1 839 988 838.6 988.9 839.1 989.9 838.7 990.8 839.7 991.7 839.2 992.6 838.7 993.5 838.8 994.5 839.7 995.4 838.7 996.3 839.1 997.2 838.5 998.1 840.1 999 838.6 1000 839 1000.9 839.5 1001.8 839.9 1002.7 839.8 1003.6 839.8 1004.6 839.9 1005.5 840.1 1006.4 840.9 1007.3 839.6 1008.2 840.3 1009.1 839.3 1010.1 840.1 1011 839.3 1011.9 839.4 1012.8 839.1 1013.7 839.6 1014.7 839.2 1015.6 840.2 1016.5 839.5 1017.4 839.3 1018.3 839.8 1019.2 838.9 1020.2 839.4 1021.1 840.2 1022 839 1022.9 838.8 1023.8 839.6 1024.8 840.2 1025.7 839.4 1026.6 839.3 1027.5 839.6 1028.4 838.9 1029.3 838.9 1030.3 839.4 1031.2 838.3 1032.1 838.8 1033 839 1033.9 839.7 1034.9 838.7 1035.8 839.6 1036.7 838.7 1037.6 838 1038.5 839.4 1039.4 838.5 1040.3 839.1 1041.2 839 1042.1 839 1043 837.6 1043.9 838.2 1044.8 837.6 1045.7 838.3 1046.6 837.8 1047.5 837.9 1048.4 838.4 1049.3 837.6 1050.2 838.4 1051.1 838 1052 837.7 1052.9 837.2 1053.8 837.6 1054.7 837.6 1055.6 836.7 1056.5 837.8 1057.5 836.7 1058.4 837.5 1059.4 837.7 1060.3 837.6 1061.3 837.3 1062.2 837.4 1063.1 837.3 1064.1 838.5 1065 837.5 1066 838.9 1066.9 838 1067.9 837.8 1068.8 838.9 1069.8 838.7 1070.7 838.6 1071.6 837.5 1072.5 838.6 1073.4 838.5 1074.3 837.4 1075.3 837 1076.2 838 1077.1 837.8 1078 836.6 1078.9 836.5 1079.9 836.6 1080.8 836.2 1081.7 836.6 1082.6 835.9 1083.5 837.2 1084.4 836.1 1085.4 836.1 1086.3 835.5 1087.2 836.1 1088.1 836.8 1089 836.1 1090 835.8 1090.9 837.2 1091.8 836 1092.7 837 1093.6 837.5 1094.5 837.5 1095.5 836.2 1096.4 836.1 1097.3 836.4 1098.2 837 1099.1 836.4 1100.1 836.4 1101 836.3 1101.9 837.1 1102.8 837.5 1103.7 837.3 1104.6 836.6 1105.5 836.2 1106.4 837.5 1107.3 837.2 1108.2 837 1109.1 836.8 1110 836 1110.9 836.3 1111.8 837.1 1112.7 836.5 1113.6 837.2 1114.5 837.3 1115.4 836.8 1116.3 836.9 1117.2 836.4 1118.1 836.9 1119 837.1 1119.9 836.7 1120.8 835.7 1121.7 836.8 1122.6 834.5 1123.6 835.9 1124.5 835.7 1125.5 836.8 1126.4 837.3 1127.4 837.1 1128.3 836.7 1129.3 837.7 1130.2 837.4 1131.1 836.2 1132.1 836.4 1133 836.4 1134 836.7 1134.9 837.7 1135.9 837.7 1136.8 837.9 1137.7 837.2 1138.6 838.5 1139.5 838.6 1140.4 838.4 1141.3 838.3 1142.2 837.4 1143.1 838.2 1144 839.2 1144.9 839.7 1145.8 839.2 1146.7 838.9 1147.6 839.2 1148.5 838.1 1149.4 839 1150.3 838.9 1151.2 839.8 1152.1 839 1153 839.7 1153.9 840.5 1154.8 839.5 1155.7 839.4 1156.6 839.6 1157.6 839.9 1158.5 839.2 1159.5 839.9 1160.4 840.1 1161.4 838.9 1162.3 839.3 1163.3 838.6 1164.2 838.8 1165.1 839.2 1166.1 838.9 1167 838.9 1168 839.9 1168.9 839.5 1169.9 839.5 1170.8 839.3 1171.8 839.3 1172.7 838.8 1173.6 838.6 1174.6 839.8 1175.5 840.5 1176.5 839.3 1177.4 840.1 1178.4 840.6 1179.3 839.5 1180.3 840.8 1181.2 839.6 1182.1 840.9 1183.1 840.2 1184 841.2 1184.9 840.5 1185.8 840.7 1186.7 840.8 1187.7 841.4 1188.6 841.7 1189.5 842.3 1190.4 841.7 1191.6 841.7 1192.7 842.3" fill="none" stroke="#a3a3a3" stroke-width="1.15"/>
<polyline points="1198 842.3 1199 841.4 1200 841.1 1201 842.2 1202 840.2 1202.9 840.5 1203.8 840.1 1204.7 841.7 1205.6 840.9 1206.5 841.4 1207.4 840.9 1208.3 841 1209.2 841.7 1210.1 840.5 1211 841 1211.9 840.9 1212.8 840.4 1213.7 841.1 1214.6 841.9 1215.5 842.1 1216.4 841.4 1217.3 840.5 1218.2 841.5 1219.1 841.4 1220 841.3 1220.9 840.9 1221.8 841 1222.8 841.7 1223.7 840.7 1224.7 841.3 1225.6 841.5 1226.5 841.9 1227.5 841.1 1228.4 842.3 1229.4 841.3 1230.3 841.6 1231.3 842.2 1232.2 842.2 1233.2 841.8 1234.1 841.7 1235 842.3" fill="none" stroke="#a3a3a3" stroke-width="1.15"/>
<polyline points="1365.4 842.3 1366.5 842.3 1367.6 841.6 1368.7 842.3 1369.6 842 1370.5 840.9 1371.4 841.9 1372.4 842 1373.3 840.8 1374.2 841.5 1375.1 840.7 1376 840.5 1376.9 841.3 1377.8 840.6 1378.7 841.5 1379.6 841.8 1380.5 841.7 1381.4 841.7 1382.4 840.3 1383.3 840.6 1384.2 841.1 1385.1 840.1 1386 841.1 1386.9 841.4 1387.8 840 1388.8 841.3 1389.7 841.6 1390.7 840.4 1391.6 840.8 1392.6 841.1 1393.5 840.1 1394.5 841.6 1395.4 841.2 1396.3 841.5 1397.3 840.5 1398.2 841.3 1399.2 841.8 1400.1 840.4 1401.1 840.6 1402 841.9 1403 840.3 1403.9 841.6 1404.8 840.8 1405.8 840.3 1406.7 840.6 1407.7 840.4 1408.6 840.2 1409.6 839.7 1410.5 840.3 1411.5 840.6 1412.4 840.4 1413.3 839.9 1414.2 840 1415.2 840.6 1416.1 839.8 1417 839.8 1417.9 840.2 1418.8 841.2 1419.7 840.6 1420.6 840.6 1421.5 840.3 1422.4 839.6 1423.3 840.7 1424.2 840.3 1425.1 840.4 1426 839.9 1426.9 839.6 1427.8 839.2 1428.7 839.5 1429.6 839.8 1430.5 839.3 1431.4 839.5 1432.3 838.8 1433.2 839.6 1434.1 839.6 1435.1 838 1436 838.6 1437 838.8 1437.9 838.2 1438.8 838.4 1439.8 837.4 1440.7 838.7 1441.7 838 1442.6 837.9 1443.6 837.8 1444.5 835.3 1445.5 836.2 1446.4 835.9 1447.3 835.8 1448.2 837 1449.1 835.7 1450 837.1 1450.9 835.5 1451.8 836.9 1452.7 835.5 1453.6 836.2 1454.5 836.3 1455.4 835.5 1456.3 836.5 1457.2 835.8 1458.1 835.4 1459 835.1 1459.9 835.6 1460.8 836.1 1461.7 837.1 1462.6 835.9 1463.5 835 1464.4 836.2 1465.3 835 1466.2 835.1 1467.2 834.9 1468.1 835.4 1469.1 835.6 1470 835.7 1471 835 1471.9 834.8 1472.9 835.7 1473.8 834.8 1474.7 835.9 1475.7 834.6 1476.6 835.7 1477.6 834 1478.5 835.1 1479.5 834.5 1480.4 834.2 1481.4 832.8 1482.3 833.8 1483.2 834.7 1484.2 835.4 1485.1 833.9 1486.1 835 1487 834.8 1488 834 1488.9 834.5 1489.9 834.2 1490.8 834.4 1491.7 835.1 1492.7 835.3 1493.6 834.4 1494.5 834.1 1495.4 834.9 1496.3 836.1 1497.2 835.1 1498.1 835.4 1499 835.6 1499.9 836.8 1500.8 836.2 1501.7 836.3 1502.6 836.4 1503.5 837.9 1504.4 837.8 1505.3 837.2 1506.2 837.7 1507.1 837.3 1508 838.3 1508.9 838.4 1509.8 837.9 1510.7 838.4 1511.6 839.5 1512.5 839.7 1513.5 837.4 1514.4 841.3 1515.4 838.5 1516.3 838.5 1517.2 839.6 1518.2 839 1519.1 839.7 1520.1 839.4 1521 840 1522 838.6 1522.9 839 1523.9 840.4 1524.8 839.3 1525.7 839 1526.6 838.8 1527.5 838.6 1528.4 838.3 1529.4 838.7 1530.3 838.2 1531.2 839 1532.1 837.5 1533 838.4 1533.9 837.1 1534.8 835.4 1535.7 837 1536.6 837.2 1537.6 836.2 1538.5 837.4 1539.4 837.2 1540.4 838 1541.3 837.6 1542.3 836.9 1543.2 838.1 1544.2 837 1545.1 836.6 1546.1 836.4 1547 838.1 1547.9 837.5 1548.9 836.9 1549.8 836.7 1550.7 838 1551.6 836.8 1552.6 837.3 1553.5 837.8 1554.4 839.4 1555.3 838.5 1556.2 838.1 1557.1 837.5 1558.1 838.5 1559 838.5 1559.9 838.3 1560.8 838.6 1561.7 838.6 1562.7 838 1563.6 838.1 1564.5 838.6 1565.4 838.7 1566.4 838.2 1567.3 839.4 1568.2 838.6 1569.2 839.1 1570.1 838 1571.1 838.5 1572 839.1 1573 838.8 1573.9 839.1 1574.9 837.8 1575.8 838 1576.7 838.1 1577.7 838.4 1578.6 837.6 1579.6 839.3 1580.5 838.4 1581.5 839.1 1582.4 838 1583.4 838.5 1584.3 838.3 1585.2 838.6 1586.2 838 1587.1 838.1 1588.1 839.4 1589 838.8 1590 839.8 1590.9 839.5 1591.9 838.8 1592.8 839.8 1593.7 838.9 1594.6 839 1595.5 838.9 1596.4 839.5 1597.3 838.9 1598.2 839.3 1599.1 838.5 1600 839.4 1600.9 839.3 1601.8 838.2 1602.7 838.8 1603.6 838.9 1604.5 839.7 1605.4 838.8 1606.3 839.5 1607.2 838.8 1608.1 838.7 1609 838.8 1609.9 839 1610.8 839.1 1611.7 838.8 1612.6 839.2 1613.5 839.2 1614.4 838 1615.4 839.2 1616.3 838 1617.2 839.2 1618.1 838 1619 838.7 1620 839.7 1620.9 839.5 1621.8 838.6 1622.7 838 1623.6 838.5 1624.6 838.6 1625.5 839.6 1626.4 839 1627.3 838.2 1628.2 839.7 1629.1 839.7 1630.1 838.7 1631 838.9 1631.9 839.1 1632.8 839 1633.7 838.7 1634.7 838.8 1635.6 839.4 1636.5 839.5 1637.4 839 1638.3 839 1639.2 840 1640.2 839.4 1641.1 839.4 1642 838.8 1642.9 841 1643.8 838.9 1644.8 839.1 1645.7 839.8 1646.6 839.6 1647.5 839.9 1648.4 839.1 1649.3 838.9 1650.3 839 1651.2 838.8 1652.1 840.3 1653 839.8 1653.9 840.2 1654.9 839.5 1655.8 838.6 1656.7 839.1 1657.6 839.6 1658.5 839.5 1659.4 840.1 1660.4 840 1661.3 839.9 1662.2 838.8 1663.1 839.7 1664.1 839.6 1665 839.5 1665.9 839.4 1666.8 838.9 1667.8 839 1668.7 840.6 1669.6 839.8 1670.5 839.5 1671.5 839.8 1672.4 839.1 1673.3 840.6 1674.2 840 1675.2 839.4 1676.1 840.7 1677 839.4 1678 839 1678.9 840.7 1679.8 840.6 1680.8 839 1681.7 839.6 1682.6 840.1 1683.6 840.2 1684.5 838.8 1685.4 838.8 1686.4 840.1 1687.3 839.5 1688.2 838.7 1689.2 838.8 1690.1 839.1 1691 839.6 1691.9 838.8 1692.8 839.1 1693.7 840.1 1694.6 838.8 1695.5 840.1 1696.4 839.4 1697.3 838.8 1698.2 838.9 1699.1 839.5 1700 838.9 1701 839 1701.9 839.1 1702.8 839.5 1703.7 838.7 1704.6 839.5 1705.5 839.7 1706.4 839.1 1707.3 839 1708.2 838.8 1709.1 839.7 1710 840.4 1710.9 839.8 1711.8 839.8 1712.8 839.1 1713.7 839.6 1714.6 838.6 1715.6 839.7 1716.5 839 1717.5 839.1 1718.4 838.2 1719.4 838.9 1720.3 838.2 1721.3 839.3 1722.2 838.2 1723.1 838.1 1724.1 838.2 1725 839.5 1725.9 839.2 1726.8 838.6 1727.7 839.4 1728.6 838.8 1729.5 838.8 1730.4 839.1 1731.3 838.9 1732.2 837.9 1733.1 838.8 1734 837.9 1734.9 839.3 1735.8 838.9 1736.7 839 1737.6 838.3 1738.5 838.9 1739.4 838.1 1740.3 838.5 1741.2 837.7 1742.1 838.9 1743 839 1743.9 837.8 1744.8 837.8 1745.8 839 1746.7 838.6 1747.6 838.6 1748.5 838.4 1749.4 838.6 1750.4 837.2 1751.3 838.5 1752.2 838 1753.1 838.3 1754 836.9 1754.9 838.2 1755.9 837.8 1756.8 837.3 1757.7 837.3 1758.6 837.7 1759.5 836.7 1760.5 837.7 1761.4 837.4 1762.3 836.2 1763.3 835.8 1764.2 835.7 1765.2 836.9 1766.1 835.3 1767.1 835.7 1768 835.1 1769 835.8 1769.9 835.6 1770.8 835.1 1771.8 833.2 1772.7 834.8 1773.7 834.3 1774.6 833.3 1775.6 833.5 1776.6 833.3 1777.5 833.9 1778.5 833.7 1779.5 832.8 1780.4 832.5 1781.4 832.9 1782.4 832.5 1783.3 833.1 1784.3 832 1785.2 832.1" fill="none" stroke="#a3a3a3" stroke-width="1.15"/>
<rect x="1785.9" y="806.2" width="8.3" height="35.3" fill="#eceef4" stroke="#9a9fb5" stroke-width="0.9"/>
<rect x="1795.8" y="806.2" width="8.6" height="35.3" fill="#eceef4" stroke="#9a9fb5" stroke-width="0.9"/>
</svg>
</body></html>
